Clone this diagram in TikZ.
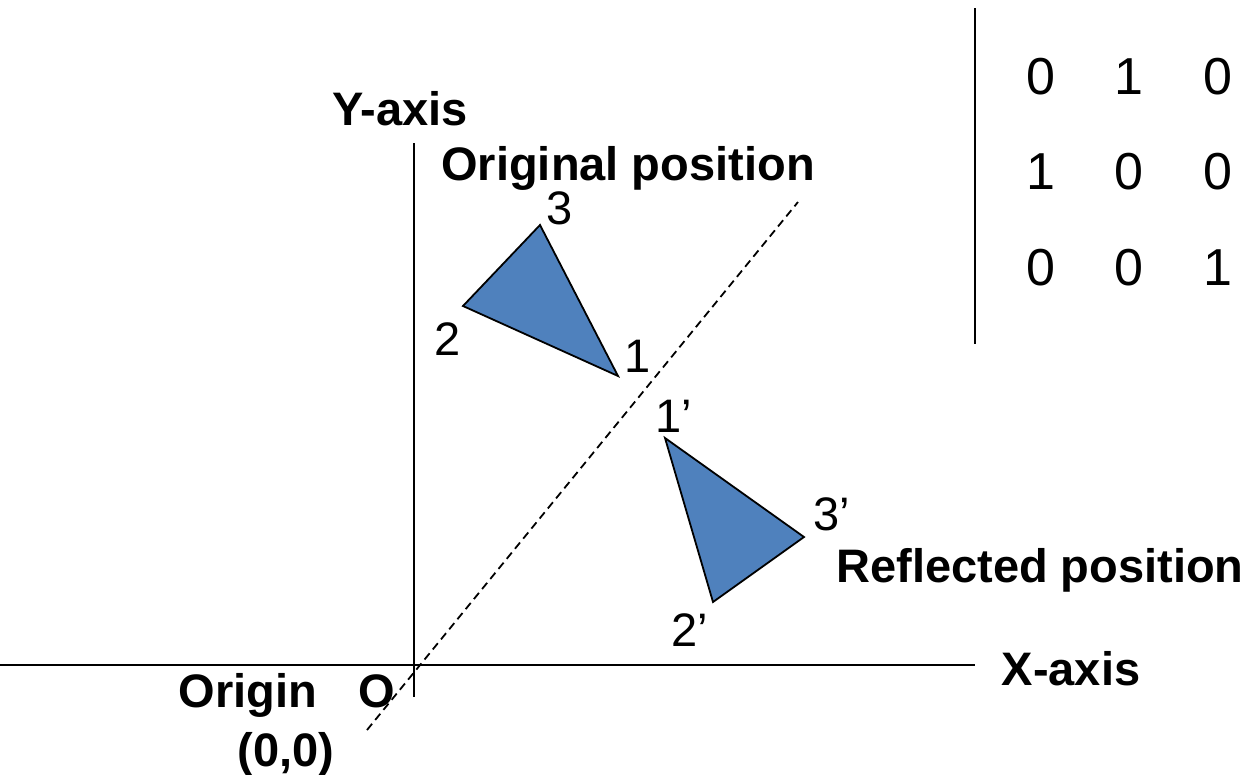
\documentclass[tikz,border=0pt]{standalone}
\usepackage{fontspec}
\setmainfont{Liberation Sans}
\begin{document}
\begin{tikzpicture}[x=1pt,y=-1pt,
  lbl/.style={inner sep=0pt,anchor=base,font=\fontsize{47}{56}\selectfont\bfseries},
  num/.style={inner sep=0pt,anchor=base,font=\fontsize{47}{56}\selectfont},
  mnum/.style={inner sep=0pt,anchor=base,font=\fontsize{52}{60}\selectfont},
  axis/.style={line width=2.4pt},
  tri/.style={draw=black,line width=1.8pt,fill=triblue,line join=miter}]
\definecolor{triblue}{HTML}{4F81BD}
\useasboundingbox (0,0) rectangle (1256,774);
% axes
\coordinate (xl) at (0,665);
\coordinate (xr) at (975,665);
\coordinate (yt) at (414,143);
\coordinate (yb) at (414,697);
\draw[axis] (xl) -- (xr);
\draw[axis] (yt) -- (yb);
% reflection line
\coordinate (d1) at (367,730);
\coordinate (d2) at (798,202);
\draw[line width=1.8pt,dash pattern=on 8pt off 5pt] (d1) -- (d2);
% matrix bar
\coordinate (mt) at (975,8);
\coordinate (mb) at (975,344);
\draw[axis] (mt) -- (mb);
% matrix entries
\node[mnum] (m11) at (1041,94) {0};
\node[mnum] (m12) at (1129,94) {1};
\node[mnum] (m13) at (1218,94) {0};
\node[mnum] (m21) at (1041,189) {1};
\node[mnum] (m22) at (1129,189) {0};
\node[mnum] (m23) at (1218,189) {0};
\node[mnum] (m31) at (1041,285) {0};
\node[mnum] (m32) at (1129,285) {0};
\node[mnum] (m33) at (1218,285) {1};
% triangles
\coordinate (p1) at (618,376);
\coordinate (p2) at (463,306);
\coordinate (p3) at (540,225);
\draw[tri] (p1) -- (p2) -- (p3) -- cycle;
\coordinate (q1) at (665,438);
\coordinate (q2) at (713,602);
\coordinate (q3) at (804,537);
\draw[tri] (q1) -- (q2) -- (q3) -- cycle;
% vertex labels
\node[num] (l3) at (560,224) {3};
\node[num] (l2) at (448,355) {2};
\node[num] (l1) at (638,372) {1};
\node[num] (l1p) at (674,432) {1’};
\node[num] (l3p) at (832,530) {3’};
\node[num] (l2p) at (690,646) {2’};
% text labels
\node[lbl] (yax) at (400,125) {Y-axis};
\node[lbl] (orig) at (628,180) {Original position};
\node[lbl] (refl) at (1040,582) {Reflected position};
\node[lbl] (xax) at (1071,685) {X-axis};
\node[lbl] (origin) at (248,707) {Origin};
\node[lbl] (oo) at (377,707) {O};
\node[lbl] (zero) at (286,766) {(0,0)};
\end{tikzpicture}
\end{document}
